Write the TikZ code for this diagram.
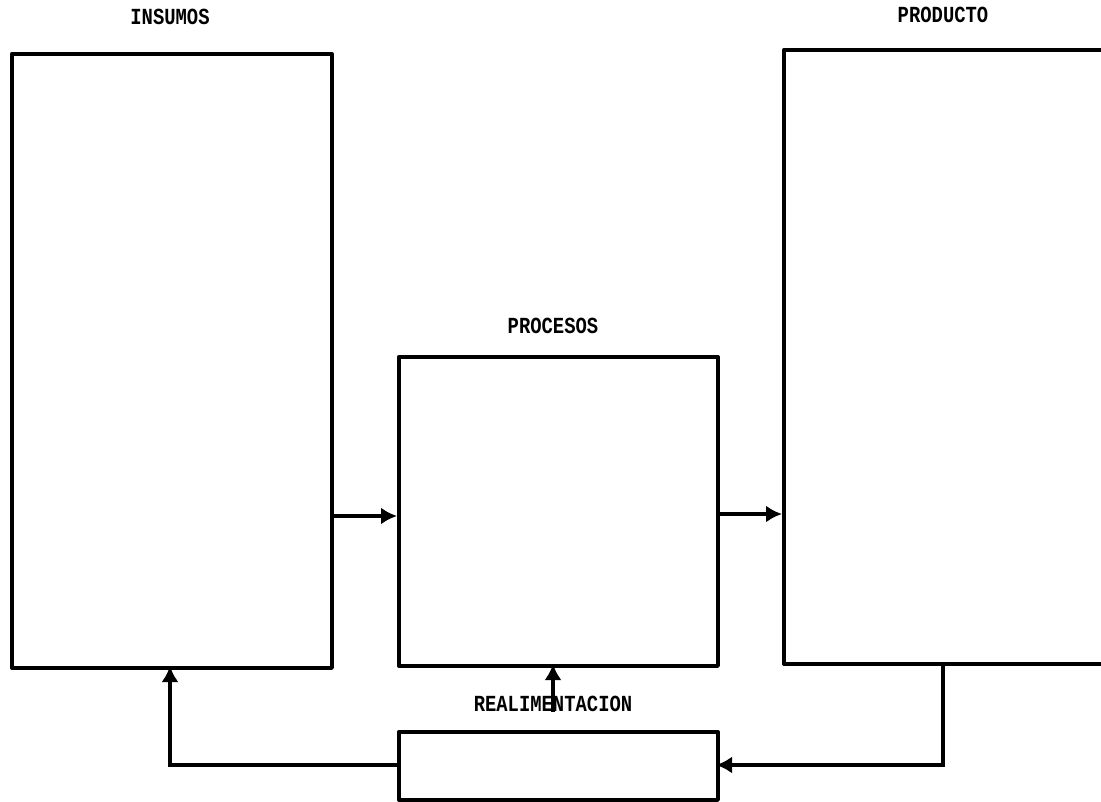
\documentclass[tikz,border=0pt]{standalone}
\usepackage{fontspec}
\setmonofont{Liberation Mono}
\usetikzlibrary{arrows.meta}
\begin{document}
\begin{tikzpicture}[x=1pt,y=-1pt,
  blk/.style={draw=black,line width=3.8pt,line join=round,inner sep=0pt,anchor=north west},
  lbl/.style={font=\ttfamily\bfseries\fontsize{23}{23}\selectfont,xscale=0.82,inner sep=0pt},
  conn/.style={draw=black,line width=3.8pt,-{Latex[length=16pt,width=17pt]}}]
\useasboundingbox[fill=white] (0,0) rectangle (1101,802);
% boxes
\node[blk,minimum width=320pt,minimum height=614pt] (ins) at (10,52) {};
\node[blk,minimum width=330pt,minimum height=614pt] (pro) at (782,48) {};
\node[blk,minimum width=319pt,minimum height=309pt] (proc) at (397,355) {};
\node[blk,minimum width=319pt,minimum height=68pt] (real) at (397,730) {};
% labels
\node[lbl] (tins) at (170,17) {INSUMOS};
\node[lbl] (tpro) at (943,15) {PRODUCTO};
\node[lbl] (tproc) at (553,326) {PROCESOS};
\node[lbl] (treal) at (553,704) {REALIMENTACION};
% coordinates
\coordinate (a1) at (330,516);
\coordinate (a2) at (716,514);
\coordinate (p1) at (943,662);
\coordinate (p2) at (943,765);
\coordinate (r1) at (716,765);
\coordinate (l1) at (397,765);
\coordinate (l2) at (170,765);
\coordinate (l3) at (170,666);
\coordinate (f1) at (553,712);
\coordinate (f2) at (553,664);
% connectors
\draw[conn] (a1) -- (proc.west |- a1);
\draw[conn] (a2) -- (pro.west |- a2);
\draw[conn] (p1) -- (p2) -- (r1);
\draw[conn] (l1) -- (l2) -- (l3);
\draw[conn] (f1) -- (f2);
\end{tikzpicture}
\end{document}
